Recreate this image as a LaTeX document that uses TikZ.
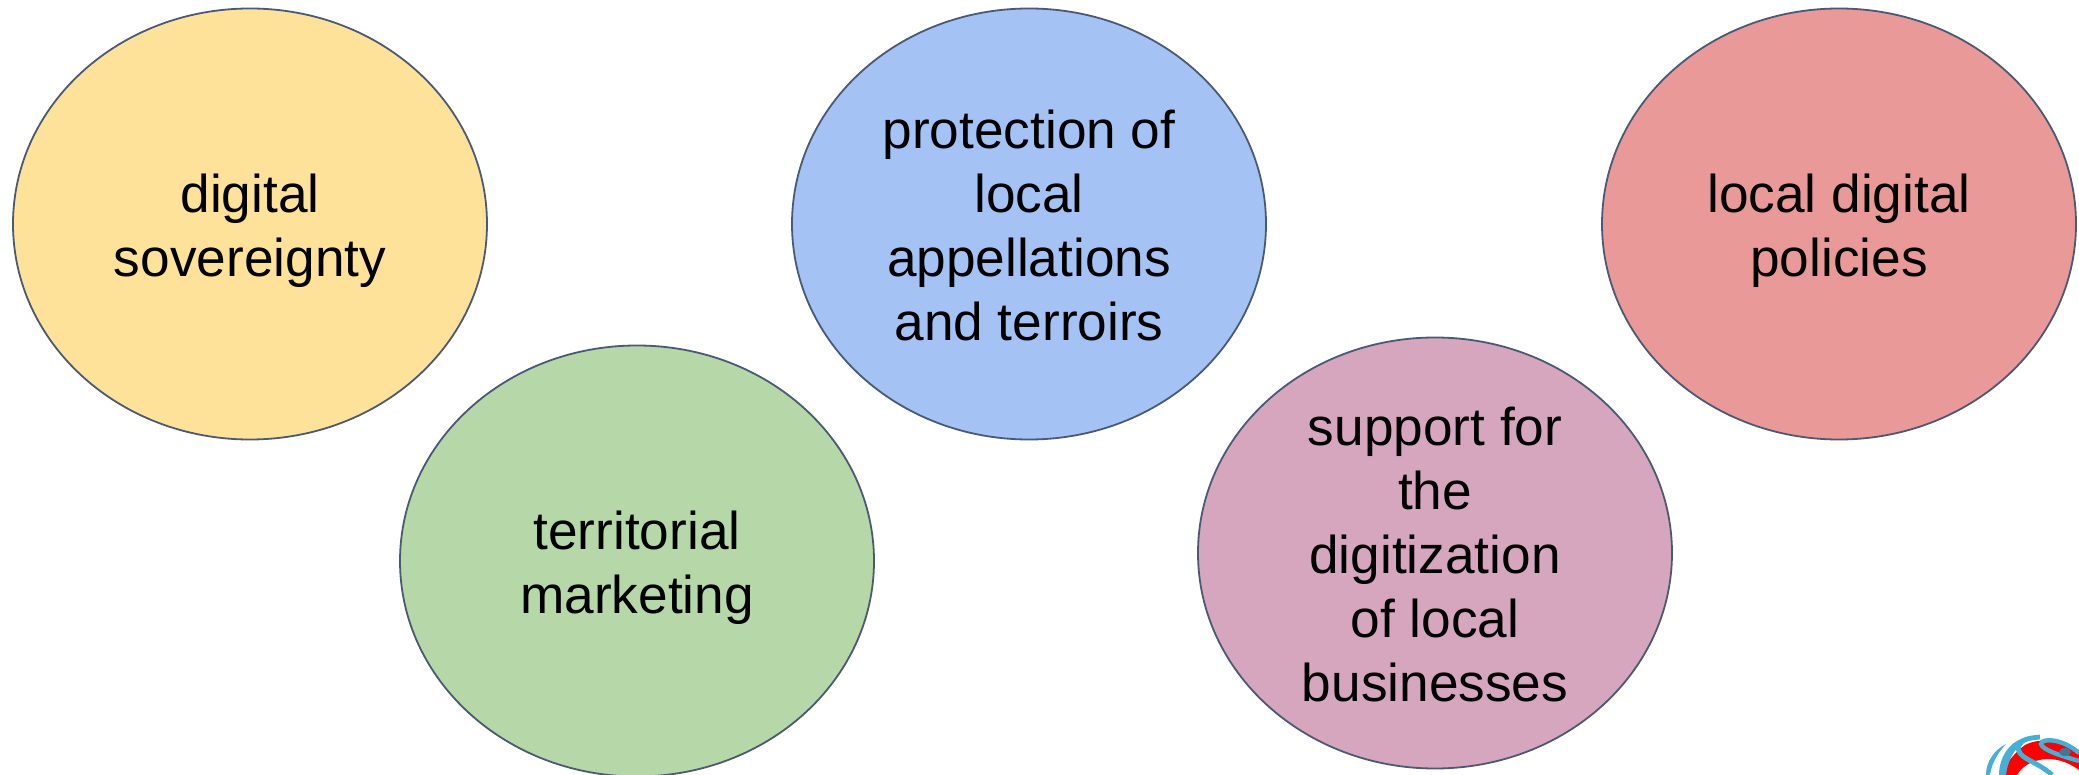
\documentclass[tikz,border=0pt]{standalone}
\usepackage{fontspec}
\setmainfont{Liberation Sans}
\usetikzlibrary{shapes.geometric}
\newcommand{\lastl}{\rule[-6.5pt]{0pt}{6.5pt}}
\newcommand{\firstl}{\rule{0pt}{27pt}}
\tikzset{x=0.5pt,y=-0.5pt,
 bub/.style={ellipse,draw=edgec,line width=0.9pt,minimum width=237pt,minimum height=215.5pt,inner sep=-14pt,align=center,text=black,
 font=\fontsize{26.6}{32}\selectfont}}
\definecolor{edgec}{HTML}{4A5A75}
\definecolor{cy}{HTML}{FFE299}
\definecolor{cg}{HTML}{B6D7A8}
\definecolor{cb}{HTML}{A4C2F4}
\definecolor{cp}{HTML}{D5A6BD}
\definecolor{cr}{HTML}{EA9999}
\definecolor{lb}{HTML}{45B0D5}
\definecolor{lr}{HTML}{FF0000}
\begin{document}
\begin{tikzpicture}
\useasboundingbox (0,0) rectangle (2079,775);
\fill[white] (0,0) rectangle (2079,775);
\node[bub,fill=cy] (a) at (250,224) {\firstl digital\\\lastl sovereignty};
\node[bub,fill=cg] (b) at (637,561) {\firstl territorial\\\lastl marketing};
\node[bub,fill=cb] (c) at (1029,224) {\firstl protection of\\local\\appellations\\\lastl and terroirs};
\node[bub,fill=cp] (d) at (1435,553) {\firstl support for\\the\\digitization\\of local\\\lastl businesses};
\node[bub,fill=cr] (e) at (1839,224) {\firstl local digital\\\lastl policies};
\begin{scope}
\clip (1950,700) rectangle (2079,775);
\fill[lr] (2079,752) .. controls (2066,740) and (2040,737) .. (2025,745) .. controls (2015,752) and (2005,765) .. (2000,775) -- (2017,775) .. controls (2027,758) and (2055,752) .. (2079,770) -- cycle;
\draw[lb,line width=2.4pt] (2052,775) .. controls (2036,760) and (2014,758) .. (2019,745) .. controls (2022,739) and (2030,738) .. (2040,737);
\draw[lb,line width=2.2pt] (2079,761) .. controls (2062,756) and (2042,750) .. (2041,744) .. controls (2041,738) and (2062,738) .. (2079,753);
\fill[lb] (1999,775) .. controls (1999,757) and (2010,740) .. (2028,737) .. controls (2018,745) and (2008,757) .. (2006,775) -- cycle;
\fill[lb] (1986,775) .. controls (1986,762) and (1994,750) .. (2006,744) .. controls (1998,753) and (1992,762) .. (1990,775) -- cycle;
\fill[edgec!70!lb] (2065,752) ellipse (6 and 4);
\end{scope}
\end{tikzpicture}
\end{document}
